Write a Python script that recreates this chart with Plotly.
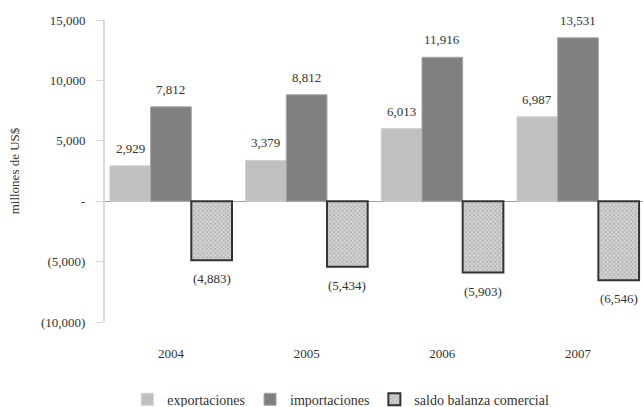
import plotly.graph_objects as go

years = ["2004", "2005", "2006", "2007"]
exportaciones = [2929, 3379, 6013, 6987]
importaciones = [7812, 8812, 11916, 13531]
saldo = [-4883, -5434, -5903, -6546]

tick_vals = [15000, 10000, 5000, 0, -5000, -10000]
tick_text = ["15,000", "10,000", "5,000", "-", "(5,000)", "(10,000)"]

FONT = "Liberation Serif, Times New Roman, serif"
TXT = "#333333"
W = 0.30  # bar width in category units

xs = list(range(len(years)))


def fmt(v):
    s = f"{abs(v):,}"
    return f"({s})" if v < 0 else s


fig = go.Figure()
fig.add_trace(go.Bar(
    name="exportaciones", x=[i - W for i in xs], y=exportaciones, width=W,
    marker=dict(color="#c0c0c0", line=dict(color="#d0d0d0", width=1)),
))
fig.add_trace(go.Bar(
    name="importaciones", x=xs, y=importaciones, width=W,
    marker=dict(color="#808080", line=dict(color="#a6a6a6", width=1)),
))
fig.add_trace(go.Bar(
    name="saldo balanza comercial", x=[i + W for i in xs], y=saldo, width=W,
    marker=dict(
        color="#c8c8c8",
        line=dict(color="#333333", width=2),
        pattern=dict(shape="x", fgcolor="#7a7a7a", bgcolor="#d4d4d4",
                     size=3, solidity=0.4),
    ),
))

annotations = []
for series, off in ((exportaciones, -W), (importaciones, 0), (saldo, W)):
    for i, v in zip(xs, series):
        annotations.append(dict(
            x=i + off, y=v, text=fmt(v), showarrow=False,
            xref="x", yref="y",
            yanchor="bottom" if v >= 0 else "top",
            yshift=8 if v >= 0 else -9,
            font=dict(family=FONT, size=13, color=TXT),
        ))

fig.update_layout(
    width=643, height=407,
    margin=dict(l=105, r=0, t=20, b=85, autoexpand=False),
    paper_bgcolor="white", plot_bgcolor="white",
    barmode="overlay", showlegend=True,
    font=dict(family=FONT, size=13, color=TXT),
    annotations=annotations,
    legend=dict(
        orientation="h", xref="container", yref="container",
        x=0.53, xanchor="center", y=0.018, yanchor="middle",
        font=dict(family=FONT, size=14, color=TXT),
        itemwidth=30, tracegroupgap=0,
    ),
    xaxis=dict(
        range=[-0.486, 3.479], tickvals=xs, ticktext=years,
        showgrid=False, zeroline=False, showline=False, ticks="",
        ticklabelstandoff=22, fixedrange=True,
        tickfont=dict(family=FONT, size=13, color=TXT),
    ),
    yaxis=dict(
        range=[-10000, 15000], tickvals=tick_vals, ticktext=tick_text,
        showgrid=False, zeroline=True, zerolinecolor="#a0a0a0", zerolinewidth=1,
        showline=True, linecolor="#d9d9d9", linewidth=2,
        ticks="outside", ticklen=7, tickcolor="#d9d9d9",
        ticklabelstandoff=8,
        tickfont=dict(family=FONT, size=13, color=TXT),
        title=dict(text="millones de US$", standoff=18,
                   font=dict(family=FONT, size=13, color=TXT)),
    ),
)

fig.write_html("out.html")
